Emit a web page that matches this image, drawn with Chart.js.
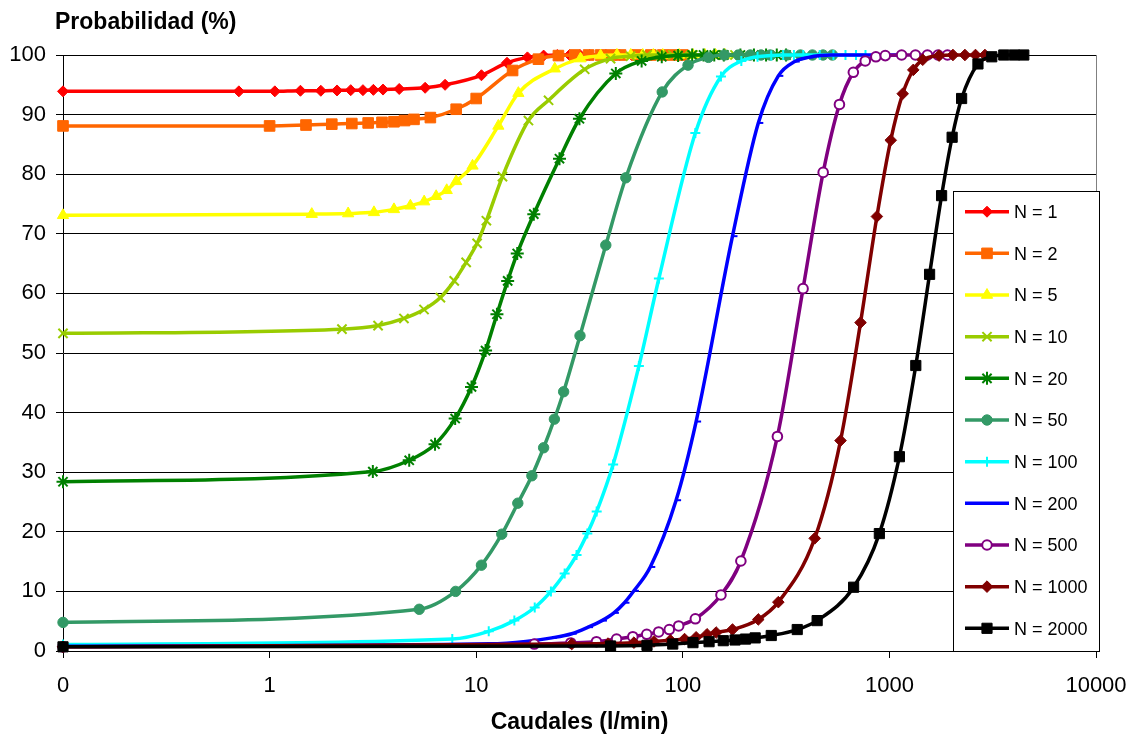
<!DOCTYPE html>
<html>
<head>
<meta charset="utf-8">
<script src="https://cdn.jsdelivr.net/npm/chart.js@4.4.0/dist/chart.umd.min.js"></script>
<style>
html,body{margin:0;padding:0;background:#fff;}
canvas{display:block;}
</style>
</head>
<body>
<canvas id="c" width="1133" height="736"></canvas>
<script>
// ---------- DATA ----------
const seriesLabels = ['N = 1','N = 2','N = 5','N = 10','N = 20','N = 50','N = 100','N = 200','N = 500','N = 1000','N = 2000'];

const xN1 = [0.1, 0.71, 1.06, 1.41, 1.77, 2.12, 2.47, 2.83, 3.18, 3.54, 4.24, 5.66, 7.07, 10.6, 14.1, 17.7, 21.2, 24.7, 28.3, 31.8, 35.4, 42.4, 49.5, 56.6, 63.6, 70.7];
const yN1 = [93.9, 93.9, 93.9, 94.0, 94.0, 94.05, 94.1, 94.1, 94.15, 94.2, 94.3, 94.5, 95.0, 96.6, 98.7, 99.6, 99.9, 100, 100, 100, 100, 100, 100, 100, 100, 100];

const xN2 = [0.1, 1, 1.5, 2, 2.5, 3, 3.5, 4, 4.5, 5, 6, 8, 10, 15, 20, 25, 30, 35, 40, 45, 50, 60, 70, 80, 90, 100];
const yN2 = [88.1, 88.1, 88.25, 88.4, 88.5, 88.6, 88.7, 88.8, 89.0, 89.2, 89.5, 90.9, 92.7, 97.4, 99.3, 99.9, 100, 100, 100, 100, 100, 100, 100, 100, 100, 100];

const xN5 = [0.1, 1.6, 2.4, 3.2, 4, 4.8, 5.6, 6.4, 7.2, 8, 9.6, 12.8, 16, 24, 32, 40, 48, 56, 64, 72, 80, 96, 112, 128, 144, 160];
const yN5 = [73.1, 73.3, 73.4, 73.6, 74.1, 74.7, 75.4, 76.3, 77.3, 78.8, 81.4, 88.1, 93.6, 97.7, 99.4, 99.9, 100, 100, 100, 100, 100, 100, 100, 100, 100, 100];

const xN10 = [0.1, 2.24, 3.35, 4.47, 5.59, 6.71, 7.83, 8.94, 10.1, 11.2, 13.4, 17.9, 22.4, 33.5, 44.7, 55.9, 67.1, 78.3, 89.4, 101, 112, 134, 157, 179, 201, 224];
const yN10 = [53.3, 54.0, 54.6, 55.8, 57.3, 59.3, 62.1, 65.2, 68.4, 72.2, 79.6, 89.0, 92.4, 97.6, 99.4, 99.8, 100, 100, 100, 100, 100, 100, 100, 100, 100, 100];

const xN20 = [0.1, 3.16, 4.74, 6.32, 7.91, 9.49, 11.1, 12.6, 14.2, 15.8, 19.0, 25.3, 31.6, 47.4, 63.2, 79.1, 94.9, 111, 126, 142, 158, 190, 221, 253, 285, 316];
const yN20 = [28.4, 30.1, 32.0, 34.7, 39.0, 44.3, 50.4, 56.5, 62.1, 66.7, 73.3, 82.6, 89.3, 96.9, 99.0, 99.7, 99.9, 100, 100, 100, 100, 100, 100, 100, 100, 100];

const xN50 = [0.1, 5.3, 7.95, 10.6, 13.3, 15.9, 18.6, 21.2, 23.9, 26.5, 31.8, 42.4, 53, 79.5, 106, 133, 159, 186, 212, 239, 265, 318, 371, 424, 477, 530];
const yN50 = [4.8, 7.0, 10.0, 14.4, 19.6, 24.8, 29.4, 34.1, 38.9, 43.5, 52.9, 68.1, 79.4, 93.8, 98.3, 99.6, 100, 100, 100, 100, 100, 100, 100, 100, 100, 100];

const xN100 = [0.1, 7.66, 11.5, 15.3, 19.2, 23.0, 26.8, 30.6, 34.5, 38.3, 46.0, 61.3, 76.6, 115, 153, 192, 230, 268, 306, 345, 383, 460, 536, 613, 689, 766];
const yN100 = [1.1, 2.0, 3.3, 5.1, 7.3, 10.0, 13.0, 16.1, 19.7, 23.4, 31.3, 47.8, 62.5, 86.9, 96.4, 99.0, 99.7, 99.9, 100, 100, 100, 100, 100, 100, 100, 100];

const xN200 = [0.1, 11.6, 17.4, 23.2, 29, 34.8, 40.6, 46.4, 52.2, 58, 69.6, 92.8, 116, 174, 232, 290, 348, 406, 464, 522, 580, 696, 812, 928, 1044, 1160];
const yN200 = [0.8, 1.2, 1.6, 2.2, 2.9, 4.0, 5.1, 6.4, 8.1, 10.1, 14.1, 25.3, 38.5, 69.6, 88.6, 96.5, 98.9, 99.6, 99.9, 100, 100, 100, 100, 100, 100, 100];

const xN500 = [0.1, 19.1, 28.7, 38.2, 47.8, 57.3, 66.9, 76.4, 86, 95.5, 115, 153, 191, 287, 382, 478, 573, 669, 764, 860, 955, 1146, 1337, 1528, 1719, 1910];
const yN500 = [0.7, 1.17, 1.35, 1.56, 2.0, 2.4, 2.8, 3.2, 3.6, 4.2, 5.4, 9.4, 15.1, 36.0, 60.8, 80.3, 91.7, 97.1, 99.0, 99.7, 99.9, 100, 100, 100, 100, 100];

const xN1000 = [0.1, 29, 43.5, 58, 72.5, 87, 102, 116, 131, 145, 174, 232, 290, 435, 580, 725, 870, 1015, 1160, 1305, 1450, 1740, 2030, 2320, 2610, 2900];
const yN1000 = [0.7, 1.17, 1.25, 1.4, 1.6, 1.8, 2.0, 2.3, 2.8, 3.1, 3.6, 5.3, 8.2, 18.9, 35.3, 55.1, 72.9, 85.7, 93.5, 97.5, 99.2, 99.9, 100, 100, 100, 100];

const xN2000 = [0.1, 44.7, 67.1, 89.4, 112, 134, 157, 179, 201, 224, 268, 358, 447, 671, 894, 1118, 1342, 1565, 1789, 2012, 2236, 2683, 3130, 3578, 4025, 4472];
const yN2000 = [0.7, 0.84, 0.95, 1.17, 1.4, 1.56, 1.73, 1.85, 2.0, 2.2, 2.6, 3.6, 5.1, 10.7, 19.7, 32.6, 47.9, 63.2, 76.4, 86.2, 92.7, 98.5, 99.7, 100, 100, 100];

const xTickValues = [0.1, 1, 10, 100, 1000, 10000];
const xTickLabels = ['0', '1', '10', '100', '1000', '10000'];
const yMin = 0, yMax = 100, yStep = 10;

const xTitle = 'Caudales (l/min)';
const yTitle = 'Probabilidad (%)';

// ---------- STYLES ----------
const FONT = '"Liberation Sans", Arial, Helvetica, sans-serif';
const seriesColors = ['#FF0000','#FF6600','#FFFF00','#99CC00','#008000','#339966','#00FFFF','#0000FF','#800080','#800000','#000000'];
const markerStyles = ['rectRot','rect','triangle','crossRot','star','circle','cross','dash','circle','rectRot','rect'];
const markerRadii = [5.5, 7.5, 6.5, 6.5, 6.5, 5.2, 5, 5, 4.8, 5.8, 7.2];
const markerBorders = [1, 1, 1, 2, 2, 1, 2, 2, 2, 1, 1];
const markerFills = ['#FF0000','#FF6600','#FFFF00','#99CC00','#008000','#339966','#00FFFF','#0000FF','#FFFFFF','#800000','#000000'];

const xSeries = [xN1, xN2, xN5, xN10, xN20, xN50, xN100, xN200, xN500, xN1000, xN2000];
const ySeries = [yN1, yN2, yN5, yN10, yN20, yN50, yN100, yN200, yN500, yN1000, yN2000];

const datasets = seriesLabels.map((lab, i) => ({
  label: lab,
  data: xSeries[i].map((x, j) => ({x: x, y: ySeries[i][j]})),
  borderColor: seriesColors[i],
  backgroundColor: seriesColors[i],
  borderWidth: 3.5,
  pointStyle: markerStyles[i],
  pointRadius: markerRadii[i],
  pointBorderWidth: markerBorders[i],
  pointBackgroundColor: markerFills[i],
  pointBorderColor: seriesColors[i],
  pointHoverRadius: markerRadii[i],
  cubicInterpolationMode: 'monotone',
  fill: false,
  clip: false,
  order: seriesLabels.length - i
}));

const overlay = {
  id: 'overlay',
  beforeDatasetsDraw(chart) {
    const {ctx, chartArea: a} = chart;
    ctx.save();
    ctx.strokeStyle = '#808080';
    ctx.lineWidth = 1;
    ctx.beginPath();
    ctx.moveTo(Math.round(a.right) + 0.5, a.top);
    ctx.lineTo(Math.round(a.right) + 0.5, a.bottom);
    ctx.stroke();
    ctx.restore();
  },
  afterDraw(chart) {
    const ctx = chart.ctx;
    ctx.save();
    // y-axis title
    ctx.fillStyle = '#000';
    ctx.font = 'bold 23px ' + FONT;
    ctx.textAlign = 'left';
    ctx.textBaseline = 'middle';
    ctx.fillText(yTitle, 55, 23);

    // legend box
    const L = {left: 953, top: 191, right: 1099, bottom: 651, firstY: 211.7, step: 41.66, x0: 965, x1: 1009, tx: 1014};
    ctx.fillStyle = '#fff';
    ctx.fillRect(L.left, L.top, L.right - L.left, L.bottom - L.top);
    ctx.strokeStyle = '#000';
    ctx.lineWidth = 1;
    ctx.strokeRect(L.left + 0.5, L.top + 0.5, L.right - L.left, L.bottom - L.top);

    chart.data.datasets.forEach((ds, i) => {
      const y = L.firstY + i * L.step;
      ctx.strokeStyle = ds.borderColor;
      ctx.lineWidth = 3.5;
      ctx.beginPath();
      ctx.moveTo(L.x0, y);
      ctx.lineTo(L.x1, y);
      ctx.stroke();
      ctx.fillStyle = ds.pointBackgroundColor;
      ctx.strokeStyle = ds.pointBorderColor;
      ctx.lineWidth = ds.pointBorderWidth;
      Chart.helpers.drawPoint(ctx, {pointStyle: ds.pointStyle, radius: ds.pointRadius, rotation: 0, borderWidth: ds.pointBorderWidth}, (L.x0 + L.x1) / 2, y);
      ctx.fillStyle = '#000';
      ctx.font = '18px ' + FONT;
      ctx.textAlign = 'left';
      ctx.textBaseline = 'middle';
      ctx.fillText(ds.label, L.tx, y + 1.5);
    });
    ctx.restore();
  }
};

new Chart(document.getElementById('c'), {
  type: 'line',
  data: {datasets: datasets},
  plugins: [overlay],
  options: {
    responsive: false,
    animation: false,
    devicePixelRatio: 1,
    layout: {padding: {left: 0, right: 37, top: 55, bottom: 0}},
    plugins: {legend: {display: false}, tooltip: {enabled: false}, title: {display: false}},
    elements: {line: {borderJoinStyle: 'round', borderCapStyle: 'round'}},
    scales: {
      x: {
        type: 'logarithmic',
        position: 'bottom',
        min: xTickValues[0],
        max: xTickValues[xTickValues.length - 1],
        afterBuildTicks: (s) => { s.ticks = xTickValues.map(v => ({value: v})); },
        afterFit: (s) => { s.height = 85; s.paddingLeft = 0; s.paddingRight = 0; },
        ticks: {
          autoSkip: false, maxRotation: 0, minRotation: 0, padding: 15,
          color: '#000', font: {family: FONT, size: 22},
          callback: (v, i) => xTickLabels[i]
        },
        grid: {drawOnChartArea: false, drawTicks: true, tickLength: 7, color: '#000', lineWidth: 1},
        border: {display: true, color: '#000', width: 1},
        title: {display: true, text: xTitle, color: '#000', font: {family: FONT, size: 23, weight: 'bold'}, padding: {top: 0, bottom: 0}}
      },
      y: {
        type: 'linear',
        min: yMin, max: yMax,
        afterFit: (s) => { s.width = 63; s.paddingTop = 0; s.paddingBottom = 0; },
        ticks: {stepSize: yStep, padding: 10, color: '#000', font: {family: FONT, size: 22}},
        grid: {color: '#000', lineWidth: 1, tickLength: 7, drawTicks: true},
        border: {display: true, color: '#000', width: 1}
      }
    }
  }
});
</script>
</body>
</html>
